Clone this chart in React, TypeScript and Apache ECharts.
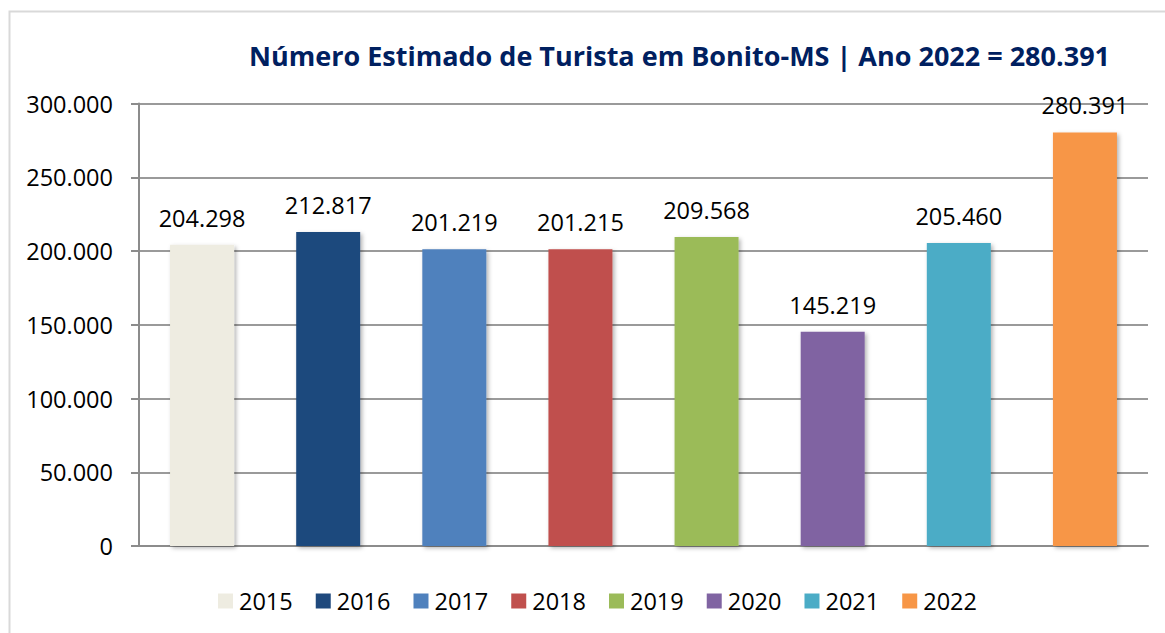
import React, { useEffect, useRef } from "react";
import * as echarts from "echarts";

const years = ["2015", "2016", "2017", "2018", "2019", "2020", "2021", "2022"];
const visitors = [204298, 212817, 201219, 201215, 209568, 145219, 205460, 280391];
const colors = ["#EEECE1", "#1F497D", "#4F81BD", "#C0504D", "#9BBB59", "#8064A2", "#4BACC6", "#F79646"];
const titleText = "Número Estimado de Turista em Bonito-MS | Ano 2022 = 280.391";

const fmt = (v: number) => String(v).replace(/\B(?=(\d{3})+(?!\d))/g, ".");

export default function App() {
  const ref = useRef<HTMLDivElement>(null);
  useEffect(() => {
    if (!ref.current) return;
    const chart = echarts.init(ref.current, null, { renderer: "svg" });
    const font = "'Open Sans', sans-serif";
    chart.setOption({
      animation: false,
      backgroundColor: "#ffffff",
      textStyle: { fontFamily: font },
      title: {
        text: titleText,
        left: 674.5,
        top: 37,
        textAlign: "center",
        textStyle: { fontFamily: font, fontWeight: "bold", fontSize: 27, color: "#002060" },
      },
      graphic: [
        {
          type: "rect",
          shape: { x: 9.5, y: 11.5, width: 1300, height: 800 },
          style: { fill: "none", stroke: "#d9d9d9", lineWidth: 2 },
          silent: true,
          z: -1,
        },
      ],
      legend: {
        top: 589,
        left: 218,
        padding: 0,
        itemWidth: 15,
        itemHeight: 15,
        itemGap: 23,
        icon: "rect",
        textStyle: { fontFamily: font, fontSize: 23.5, lineHeight: 24, color: "#000", padding: [0, 0, 0, 1] },
        data: years,
      },
      grid: { left: 139, right: 17, top: 103.5, bottom: 87 },
      xAxis: {
        type: "category",
        data: years,
        axisLabel: { show: false },
        axisTick: { show: false },
        axisLine: { lineStyle: { color: "#8c8c8c", width: 2 } },
      },
      yAxis: {
        type: "value",
        min: 0,
        max: 300000,
        interval: 50000,
        axisLine: { show: true, lineStyle: { color: "#8c8c8c", width: 2 } },
        axisTick: { show: true, length: 8, lineStyle: { color: "#8c8c8c", width: 2 } },
        axisLabel: {
          fontFamily: font,
          fontSize: 23.5,
          color: "#000",
          margin: 26,
          formatter: (v: number) => fmt(v),
        },
        splitLine: { lineStyle: { color: "#9a9a9a", width: 2 } },
      },
      series: years.map((y, i) => ({
        name: y,
        type: "bar",
        stack: "all",
        barWidth: 64,
        itemStyle: {
          color: colors[i],
          shadowBlur: 4,
          shadowColor: "rgba(0,0,0,0.3)",
          shadowOffsetX: 2,
          shadowOffsetY: 2,
        },
        label: {
          show: true,
          position: "top",
          distance: 15,
          fontFamily: font,
          fontSize: 23.5,
          color: "#000",
          formatter: (p: any) => fmt(p.value),
        },
        data: years.map((_, j) => (j === i ? visitors[i] : "-")),
      })),
    });
    return () => chart.dispose();
  }, []);
  return (
    <div
      ref={ref}
      style={{ position: "fixed", left: 0, top: 0, width: 1165, height: 633 }}
    />
  );
}
